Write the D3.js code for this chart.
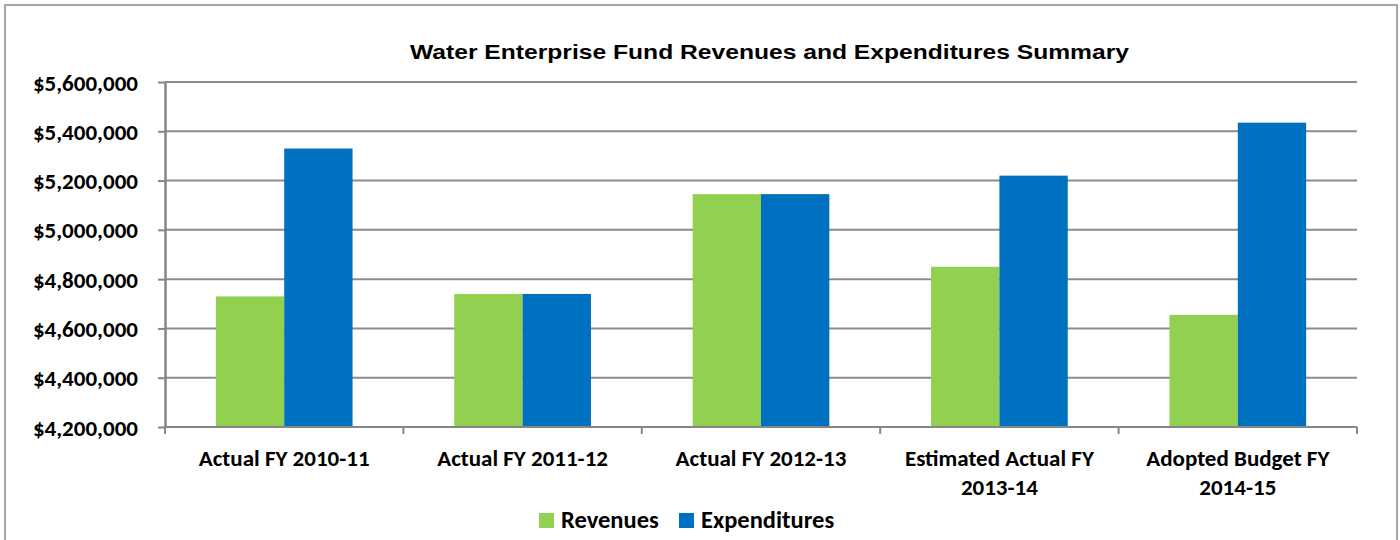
<!DOCTYPE html>
<html>
<head>
<meta charset="utf-8">
<script src="https://cdn.jsdelivr.net/npm/d3@7"></script>
<style>
  html, body { margin: 0; padding: 0; background: #fff; }
  svg { display: block; }
  .lbl { font-family: Carlito, "Liberation Sans Narrow", "Liberation Sans", Arial, sans-serif; font-weight: bold; fill: #000; }
  .title { font-family: "Liberation Sans", Arial, sans-serif; font-weight: bold; fill: #000; }
</style>
</head>
<body>
<svg id="chart" width="1400" height="540"></svg>
<script>
// Fiscal years shown on the category axis (each label may wrap to two lines)
const categories = [
  ["Actual FY 2010-11"],
  ["Actual FY 2011-12"],
  ["Actual FY 2012-13"],
  ["Estimated Actual FY", "2013-14"],
  ["Adopted Budget FY", "2014-15"]
];
const seriesNames = ["Revenues", "Expenditures"];
const seriesColors = ["#92D050", "#0070C0"];
const revenues = [4730000, 4740000, 5145000, 4850000, 4655000];
const expenditures = [5330000, 4740000, 5145000, 5220000, 5435000];
const yTicks = [4200000, 4400000, 4600000, 4800000, 5000000, 5200000, 5400000, 5600000];
const titleText = "Water Enterprise Fund Revenues and Expenditures Summary";

const svg = d3.select("#chart");
const plot = { left: 165, right: 1357, top: 82, bottom: 427 };

// outer chart border
svg.append("rect")
  .attr("x", 5).attr("y", 5)
  .attr("width", 1392).attr("height", 560)
  .attr("fill", "#fff")
  .attr("stroke", "#a6a6a6").attr("stroke-width", 2);

const catIdx = d3.range(categories.length);
const x0 = d3.scaleBand().domain(catIdx).range([plot.left, plot.right]).padding(0);
const gap = x0.bandwidth() * 0.2133;
const x1 = d3.scaleBand().domain(seriesNames)
  .range([gap, x0.bandwidth() - gap]).padding(0);
const y = d3.scaleLinear().domain([4200000, 5600000]).range([plot.bottom, plot.top]);

// horizontal gridlines
svg.append("g")
  .selectAll("line")
  .data(yTicks.slice(1))
  .join("line")
  .attr("x1", plot.left).attr("x2", plot.right)
  .attr("y1", d => y(d)).attr("y2", d => y(d))
  .attr("stroke", "#8c8c8c").attr("stroke-width", 2);

// bars
const rows = catIdx.map(i => ({ i, values: [revenues[i], expenditures[i]] }));
svg.append("g")
  .selectAll("g")
  .data(rows)
  .join("g")
  .attr("transform", d => `translate(${x0(d.i)},0)`)
  .selectAll("rect")
  .data(d => d.values.map((v, k) => ({ v, k })))
  .join("rect")
  .attr("x", d => x1(seriesNames[d.k]))
  .attr("width", x1.bandwidth())
  .attr("y", d => y(d.v))
  .attr("height", d => y(4200000) - y(d.v))
  .attr("fill", d => seriesColors[d.k]);

// y axis
const yAxis = svg.append("g")
  .attr("transform", `translate(${plot.left},0)`)
  .call(d3.axisLeft(y).tickValues(yTicks)
    .tickFormat(d => "$" + d3.format(",")(d))
    .tickSize(7).tickPadding(20).tickSizeOuter(0));
yAxis.select(".domain").attr("stroke", "#868686").attr("stroke-width", 2.5);
yAxis.selectAll(".tick line").attr("stroke", "#868686").attr("stroke-width", 2);
yAxis.selectAll(".tick text")
  .attr("class", "lbl")
  .style("font-size", "23px")
  .attr("dy", "0.35em");

// x axis line with ticks at category boundaries
const xg = svg.append("g");
xg.append("line")
  .attr("x1", plot.left).attr("x2", plot.right)
  .attr("y1", plot.bottom).attr("y2", plot.bottom)
  .attr("stroke", "#868686").attr("stroke-width", 2);
xg.selectAll("line.tk")
  .data(d3.range(categories.length + 1))
  .join("line")
  .attr("class", "tk")
  .attr("x1", i => plot.left + i * x0.bandwidth())
  .attr("x2", i => plot.left + i * x0.bandwidth())
  .attr("y1", plot.bottom).attr("y2", plot.bottom + 7)
  .attr("stroke", "#868686").attr("stroke-width", 2);

// category labels
const catText = xg.selectAll("text.cat")
  .data(rows)
  .join("text")
  .attr("class", "lbl cat")
  .attr("text-anchor", "middle")
  .style("font-size", "23px")
  .attr("transform", d => `translate(${x0(d.i) + x0.bandwidth() / 2},466)`);
catText.selectAll("tspan")
  .data(d => categories[d.i])
  .join("tspan")
  .attr("x", 0)
  .attr("dy", (d, k) => k === 0 ? 0 : 29)
  .text(d => d);

// title (set in a wide bold face across the top of the plot)
svg.append("text")
  .attr("class", "title")
  .attr("x", 769.5)
  .attr("y", 59)
  .attr("text-anchor", "middle")
  .attr("textLength", 719)
  .attr("lengthAdjust", "spacingAndGlyphs")
  .style("font-size", "21px")
  .text(titleText);

// legend
const legendItems = [
  { name: seriesNames[0], color: seriesColors[0], x: 539 },
  { name: seriesNames[1], color: seriesColors[1], x: 679 }
];
const lg = svg.append("g").selectAll("g")
  .data(legendItems)
  .join("g")
  .attr("transform", d => `translate(${d.x},513)`);
lg.append("rect")
  .attr("width", 15).attr("height", 15)
  .attr("fill", d => d.color);
lg.append("text")
  .attr("class", "lbl")
  .attr("x", 22).attr("y", 15)
  .style("font-size", "24.5px")
  .text(d => d.name);
</script>
</body>
</html>
